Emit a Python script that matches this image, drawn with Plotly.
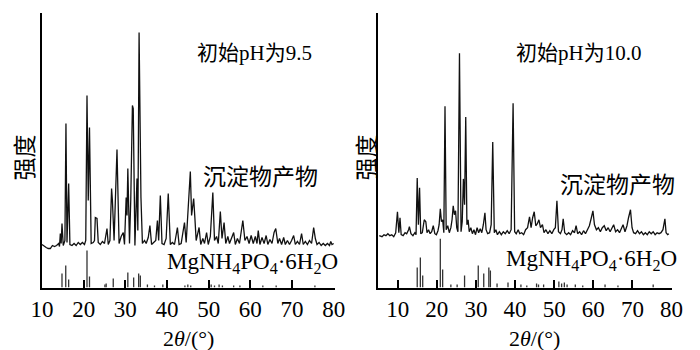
import plotly.graph_objects as go

# ---------------- data ----------------
# Left panel: initial pH 9.5 -- measured pattern (2theta, intensity a.u.)
left_tt = [10.0, 10.5, 11.0, 11.5, 12.0, 12.5, 13.0, 13.5, 14.0, 14.2, 14.4, 14.6, 14.8, 15.1, 15.5,
           15.75, 16.0, 16.4, 16.7, 17.2, 17.7, 18.2, 18.7, 19.2, 19.7, 20.2, 20.5, 20.8, 21.1, 21.4,
           21.8, 22.3, 22.6, 22.8, 23.2, 23.5, 24.0, 24.5, 25.0, 25.6, 25.9, 26.3, 26.7, 26.9, 27.3,
           28.0, 28.5, 29.0, 29.5, 29.8, 30.2, 30.4, 30.6, 31.0, 31.3, 31.7, 31.9, 32.3, 32.8, 33.0,
           33.3, 33.75, 34.1, 34.6, 35.0, 35.5, 35.9, 36.3, 36.8, 37.3, 37.7, 38.0, 38.4, 38.8, 39.3,
           39.8, 40.3, 40.8, 41.3, 41.8, 42.5, 42.9, 43.4, 44.2, 44.6, 45.2, 45.6, 45.9, 46.4, 46.7,
           47.0, 47.7, 48.1, 48.6, 49.0, 49.5, 49.9, 50.4, 51.0, 51.4, 51.9, 52.3, 52.8, 53.2, 53.7,
           54.1, 54.6, 55.0, 55.5, 56.0, 56.4, 56.9, 57.4, 57.8, 58.2, 58.7, 59.2, 59.7, 60.2, 60.7,
           61.2, 61.6, 61.9, 62.3, 62.8, 63.3, 63.8, 64.2, 64.7, 65.2, 65.7, 66.1, 66.6, 67.0, 67.5,
           68.0, 68.4, 68.9, 69.4, 69.9, 70.4, 70.8, 71.3, 71.8, 72.3, 72.7, 73.2, 73.7, 74.2, 74.7,
           75.2, 75.6, 76.0, 76.5, 77.0, 77.5, 78.0, 78.5, 79.0, 79.3, 79.6, 80.0]
left_int = [43, 41, 40, 39, 39, 42, 41, 42, 44, 41, 54, 44, 64, 42, 47,
            164, 45, 104, 43, 42, 44, 42, 45, 43, 45, 43, 47, 192, 87, 160,
            44, 45, 47, 70, 69, 45, 43, 46, 44, 59, 43, 47, 99, 87, 47,
            138, 44, 51, 55, 43, 90, 72, 119, 44, 87, 182, 179, 42, 109, 57,
            255, 90, 44, 47, 44, 50, 62, 43, 45, 47, 67, 47, 92, 44, 43,
            49, 94, 43, 45, 43, 60, 43, 44, 65, 45, 90, 116, 72, 89, 69,
            47, 60, 43, 49, 44, 55, 43, 51, 95, 47, 51, 44, 76, 49, 65,
            44, 51, 44, 49, 55, 43, 49, 44, 54, 67, 47, 51, 44, 52, 44,
            51, 44, 57, 43, 50, 44, 52, 43, 48, 44, 55, 59, 44, 49, 43,
            50, 43, 47, 43, 47, 52, 43, 46, 43, 54, 43, 46, 43, 47, 44,
            60, 49, 43, 45, 42, 44, 42, 44, 42, 46, 43, 44]

# Left panel: MgNH4PO4.6H2O standard lines
left_ref_tt = [14.8, 15.7, 16.4, 20.8, 21.4, 25.1, 25.4, 27.1, 30.6, 32.0, 33.2, 33.6, 35.3, 37.0,
               39.0, 44.3, 45.0, 45.7, 50.6, 51.4, 52.5, 53.3, 56.0, 57.5, 63.0, 66.2, 75.5]
left_ref_int = [14, 22, 8, 37, 11, 3, 4, 9, 15, 10, 14, 12, 3, 2,
                3, 2, 3, 2, 3, 2, 3, 2, 2, 2, 2, 2, 2]

# Right panel: initial pH 10.0 -- measured pattern
right_tt = [5.3, 6.0, 6.5, 7.0, 7.5, 8.0, 8.5, 9.0, 9.5, 9.95, 10.3, 10.6, 10.9, 11.4, 11.9,
            12.3, 12.8, 13.0, 13.4, 13.9, 14.4, 14.7, 15.0, 15.3, 15.6, 15.9, 16.3, 16.8, 17.2, 17.5,
            17.9, 18.3, 18.7, 19.1, 19.5, 19.9, 20.3, 20.6, 20.9, 21.2, 21.5, 21.8, 22.1, 22.4, 22.8,
            23.2, 23.6, 23.9, 24.2, 24.5, 24.8, 25.1, 25.4, 25.8, 26.2, 26.5, 26.8, 27.1, 27.4, 27.7,
            28.0, 28.3, 28.7, 29.1, 29.5, 29.9, 30.3, 30.7, 31.1, 31.5, 31.9, 32.3, 32.6, 33.0, 33.5,
            33.9, 34.3, 34.7, 35.1, 35.5, 36.0, 36.5, 37.0, 37.5, 38.0, 38.5, 39.0, 39.5, 39.9, 40.3,
            40.8, 41.2, 41.7, 42.2, 42.7, 43.2, 43.7, 44.1, 44.5, 44.9, 45.3, 45.7, 46.1, 46.5, 47.0,
            47.4, 47.9, 48.4, 48.9, 49.4, 49.9, 50.3, 50.7, 51.1, 51.6, 52.0, 52.3, 52.7, 53.2, 53.7,
            54.2, 54.7, 55.2, 55.6, 56.0, 56.5, 57.0, 57.5, 58.0, 58.5, 59.0, 59.5, 59.9, 60.3, 60.8,
            61.3, 61.8, 62.3, 62.8, 63.3, 63.8, 64.3, 64.8, 65.2, 65.7, 66.2, 66.7, 67.2, 67.6, 68.1,
            68.6, 69.0, 69.5, 69.9, 70.3, 70.8, 71.3, 71.8, 72.3, 72.8, 73.3, 73.8, 74.3, 74.8, 75.3,
            75.8, 76.3, 76.8, 77.3, 77.8, 78.3, 78.6, 79.0, 79.3]
right_int = [52, 51, 53, 52, 54, 52, 53, 51, 55, 76, 55, 70, 53, 52, 55,
             54, 58, 61, 54, 52, 55, 53, 110, 63, 100, 54, 55, 68, 66, 55,
             58, 54, 56, 62, 54, 53, 57, 63, 79, 66, 68, 55, 182, 58, 62,
             55, 60, 68, 82, 73, 77, 60, 56, 235, 56, 66, 109, 83, 171, 63,
             68, 56, 60, 54, 58, 53, 60, 55, 59, 55, 63, 75, 58, 54, 55,
             63, 146, 55, 58, 53, 56, 53, 56, 54, 57, 54, 58, 185, 56, 54,
             58, 54, 55, 53, 58, 60, 71, 60, 70, 76, 62, 64, 68, 60, 63,
             55, 58, 54, 57, 54, 58, 60, 87, 56, 54, 58, 69, 55, 53, 55,
             53, 57, 55, 62, 54, 56, 53, 57, 54, 58, 62, 70, 77, 63, 58,
             60, 56, 60, 62, 57, 60, 56, 60, 63, 56, 58, 55, 60, 63, 56,
             62, 70, 78, 60, 55, 54, 57, 54, 56, 53, 55, 53, 56, 54, 56,
             53, 55, 54, 55, 58, 69, 55, 53, 54]

# Right panel: MgNH4PO4.6H2O standard lines
right_ref_tt = [15.0, 15.8, 16.4, 20.9, 21.5, 23.6, 25.2, 27.1, 30.6, 32.0, 33.3, 33.7, 35.4, 38.2,
                41.5, 43.0, 45.5, 46.0, 47.3, 51.2, 51.9, 52.6, 53.3, 55.4, 57.3, 63.0, 66.3, 75.3]
right_ref_int = [20, 30, 12, 49, 18, 3, 3, 12, 22, 14, 20, 17, 4, 5,
                 3, 2, 4, 3, 3, 6, 4, 5, 3, 3, 2, 3, 2, 3]

x_ticks = [10, 20, 30, 40, 50, 60, 70, 80]
titles = ["初始pH为9.5", "初始pH为10.0"]
sample_label = "沉淀物产物"
ref_label = "MgNH<sub>4</sub>PO<sub>4</sub>·6H<sub>2</sub>O"
x_title = "2<i>θ</i>/(°)"
y_title = "强度"

# ---------------- figure ----------------
SERIF = '"Liberation Serif", "Noto Sans CJK SC", serif'
TICKF = '"Liberation Serif", serif'
CJK = '"Noto Sans CJK SC", sans-serif'


def stick_xy(pos, hgt):
    xs, ys = [], []
    for p, h in zip(pos, hgt):
        xs += [p, p, None]
        ys += [0, h, None]
    return xs, ys


fig = go.Figure()

fig.add_trace(go.Scatter(x=left_tt, y=left_int, mode="lines",
                         line=dict(color="#111111", width=1.3), xaxis="x", yaxis="y",
                         showlegend=False, hoverinfo="skip"))
lx, ly = stick_xy(left_ref_tt, left_ref_int)
fig.add_trace(go.Scatter(x=lx, y=ly, mode="lines", line=dict(color="#333333", width=1.3),
                         xaxis="x", yaxis="y", showlegend=False, hoverinfo="skip"))

fig.add_trace(go.Scatter(x=right_tt, y=right_int, mode="lines",
                         line=dict(color="#111111", width=1.3), xaxis="x2", yaxis="y2",
                         showlegend=False, hoverinfo="skip"))
rx, ry = stick_xy(right_ref_tt, right_ref_int)
fig.add_trace(go.Scatter(x=rx, y=ry, mode="lines", line=dict(color="#333333", width=1.3),
                         xaxis="x2", yaxis="y2", showlegend=False, hoverinfo="skip"))

W, H = 700, 350
ydom = [1 - 287.5 / H, 1 - 13 / H]

xcommon = dict(showline=True, linecolor="black", linewidth=2, ticks="inside", ticklen=8,
               tickwidth=2, tickcolor="black", tickvals=x_ticks, showgrid=False, zeroline=False,
               tickfont=dict(family=TICKF, size=23, color="black"), mirror=False)
ycommon = dict(showline=True, linecolor="black", linewidth=2, showticklabels=False, ticks="",
               showgrid=False, zeroline=False)

fig.update_layout(
    width=W, height=H, margin=dict(l=0, r=0, t=0, b=0),
    paper_bgcolor="white", plot_bgcolor="white",
    xaxis=dict(domain=[32 / W, 334 / W], range=[10, 80.2], anchor="y", **xcommon),
    yaxis=dict(domain=ydom, range=[0, 274.5], anchor="x", **ycommon),
    xaxis2=dict(domain=[379 / W, 682 / W], range=[5, 80.0], anchor="y2", **xcommon),
    yaxis2=dict(domain=ydom, range=[0, 275.5], anchor="x2", **ycommon),
)

ann = []
# panel titles
ann.append(dict(text=titles[0], x=251, y=53))
ann.append(dict(text=titles[1], x=586, y=53))
# sample labels
ann.append(dict(text=sample_label, x=258, y=175, cjk=True, size=23))
ann.append(dict(text=sample_label, x=626, y=183, cjk=True, size=23))
# reference labels
ann.append(dict(text=ref_label, x=249, y=263, size=23))
ann.append(dict(text=ref_label, x=599, y=260, size=23))
# axis titles
ann.append(dict(text=x_title, x=183, y=338, size=22))
ann.append(dict(text=x_title, x=540, y=338, size=22))

annotations = []
for a in ann:
    fam = CJK if a.get("cjk") else SERIF
    annotations.append(dict(text=a["text"], x=a["x"] / W, y=1 - a["y"] / H, xref="paper",
                            yref="paper", xanchor="center", yanchor="middle", showarrow=False,
                            font=dict(family=fam, size=a.get("size", 21), color="black")))
# y titles (rotated)
for xp in (12, 365):
    annotations.append(dict(text=y_title, x=xp / W, y=1 - 158 / H, xref="paper", yref="paper",
                            xanchor="center", yanchor="middle", showarrow=False, textangle=-90,
                            font=dict(family=CJK, size=23, color="black")))

fig.update_layout(annotations=annotations)
fig.write_html("out.html")
